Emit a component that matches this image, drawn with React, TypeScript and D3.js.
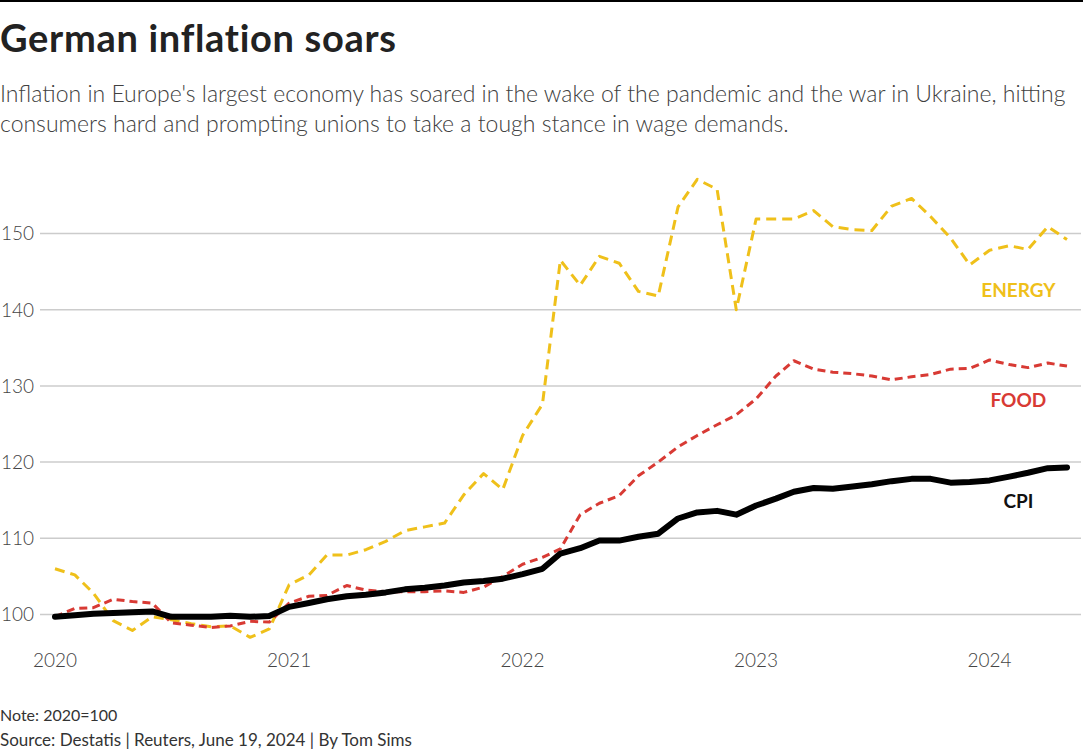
import React from 'react';
import * as d3 from 'd3';

// Monthly index values, Jan 2020 - May 2024 (2020=100)
const cpi = [
  99.7, 99.9, 100.1, 100.2, 100.3, 100.4, 99.7, 99.7, 99.7, 99.85, 99.7, 99.8,
  101.0, 101.5, 102.0, 102.4, 102.6, 102.9, 103.3, 103.5, 103.8, 104.2, 104.4, 104.7,
  105.3, 106.0, 108.0, 108.7, 109.7, 109.7, 110.2, 110.6, 112.6, 113.4, 113.6, 113.1,
  114.3, 115.2, 116.1, 116.6, 116.5, 116.8, 117.1, 117.5, 117.8, 117.8, 117.3, 117.4,
  117.6, 118.1, 118.6, 119.2, 119.3,
];

const food = [
  99.7, 100.8, 100.9, 102.0, 101.7, 101.5, 98.9, 98.6, 98.3, 98.5, 99.1, 99.0,
  101.5, 102.4, 102.5, 103.8, 103.2, 103.0, 103.0, 103.0, 103.1, 102.9, 103.6, 105.0,
  106.6, 107.5, 108.6, 113.1, 114.6, 115.6, 118.2, 120.0, 122.0, 123.5, 124.9, 126.2,
  128.3, 131.3, 133.3, 132.2, 131.8, 131.6, 131.3, 130.8, 131.2, 131.5, 132.2, 132.3,
  133.4, 132.8, 132.4, 133.0, 132.6,
];

const energy = [
  106.0, 105.2, 102.8, 99.2, 97.9, 99.7, 99.3, 98.8, 98.4, 98.5, 97.0, 98.1,
  103.9, 105.2, 107.8, 107.8, 108.5, 109.6, 111.0, 111.5, 112.0, 115.7, 118.5, 116.4,
  123.5, 127.6, 146.5, 143.2, 147.0, 146.1, 142.4, 141.8, 153.5, 157.1, 155.8, 140.0,
  151.9, 151.9, 151.9, 153.0, 150.9, 150.5, 150.4, 153.6, 154.6, 152.2, 149.4, 145.9,
  147.8, 148.4, 147.9, 150.9, 149.2,
];

const months = d3.utcMonth.range(new Date(Date.UTC(2020, 0, 1)), new Date(Date.UTC(2024, 5, 1)));
const yearTicks = [2020, 2021, 2022, 2023, 2024];
const valueTicks = [100, 110, 120, 130, 140, 150];

const seriesList = [
  { name: 'ENERGY', values: energy, color: '#EFC01A', width: 3, dash: '10,6', labelMonth: '2024-02-15', labelValue: 141.7 },
  { name: 'FOOD', values: food, color: '#D83A34', width: 3, dash: '8,5', labelMonth: '2024-02-15', labelValue: 127.2 },
  { name: 'CPI', values: cpi, color: '#000000', width: 6, dash: null, labelMonth: '2024-02-15', labelValue: 114.0 },
];

const W = 1083;
const H = 756;
const FONT = "'Source Sans Pro', Lato, 'Noto Sans', sans-serif";

export default function App() {
  const x = d3.scaleUtc()
    .domain([months[0], months[months.length - 1]])
    .range([55, 1067]);
  const y = d3.scaleLinear().domain([100, 150]).range([614.5, 233.5]);

  const line = d3.line<number>()
    .x((_, i) => x(months[i]))
    .y(d => y(d));

  return (
    <div>
      <style>{`body{margin:0;background:#fff}`}</style>
      <svg width={W} height={H} viewBox={`0 0 ${W} ${H}`} style={{ display: 'block', fontFamily: FONT }}>
        <rect width={W} height={H} fill="#fff" />
        <line x1={0} x2={W} y1={1} y2={1} stroke="#000" strokeWidth={2} />

        <text x={0} y={52} fontSize={38} fontWeight={700} fill="#222" letterSpacing={0.7}>German inflation soars</text>
        <text fontSize={23} fontWeight={300} fill="#404040">
          <tspan x={0} y={102}>Inflation in Europe's largest economy has soared in the wake of the pandemic and the war in Ukraine, hitting</tspan>
          <tspan x={0} y={132}>consumers hard and prompting unions to take a tough stance in wage demands.</tspan>
        </text>

        {/* grid + y labels */}
        {valueTicks.map(v => (
          <g key={v}>
            <line x1={40} x2={1081} y1={y(v)} y2={y(v)} stroke="#cccccc" strokeWidth={1.5} />
            <text x={1} y={y(v)} dy="0.36em" fontSize={19} fontWeight={300} fill="#444">{v}</text>
          </g>
        ))}

        {/* x labels */}
        {yearTicks.map(yr => (
          <text key={yr} x={x(new Date(Date.UTC(yr, 0, 1)))} y={667} textAnchor="middle" fontSize={19} fontWeight={300} fill="#444">{yr}</text>
        ))}

        {/* lines */}
        {seriesList.map(s => (
          <path key={s.name} d={line(s.values) || ''} fill="none" stroke={s.color} strokeWidth={s.width}
            strokeDasharray={s.dash || undefined} strokeLinejoin="round" strokeLinecap={s.dash ? 'butt' : 'round'} />
        ))}

        {/* series labels */}
        {seriesList.map(s => (
          <text key={s.name + '-l'} x={x(new Date(s.labelMonth))} y={y(s.labelValue)} textAnchor="middle"
            fontSize={19} fontWeight={700} fill={s.color === '#000000' ? '#111' : s.color}>{s.name}</text>
        ))}

        <text x={0} y={721} fontSize={16} fill="#333">Note: 2020=100</text>
        <text x={0} y={746} fontSize={17} fill="#333">Source: Destatis | Reuters, June 19, 2024 | By Tom Sims</text>
      </svg>
    </div>
  );
}
